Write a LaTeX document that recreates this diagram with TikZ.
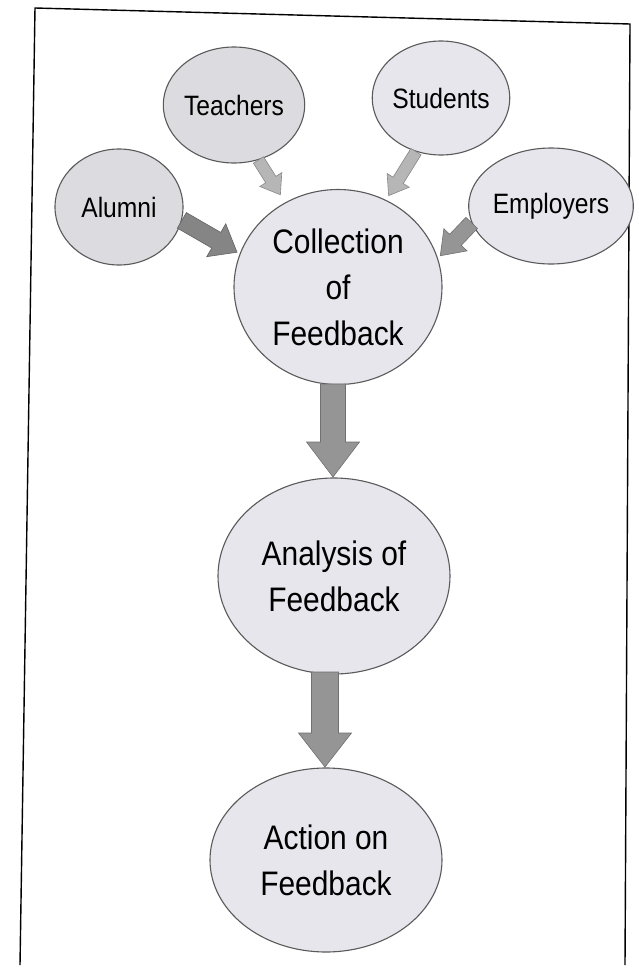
\documentclass[tikz,border=0pt]{standalone}
\usepackage{fontspec}
\setmainfont{Liberation Sans}[FakeStretch=0.88]
\usetikzlibrary{shapes.geometric,calc}
\definecolor{bubble}{HTML}{E6E6EC}
\definecolor{bubbledk}{HTML}{DCDCE0}
\definecolor{rim}{HTML}{5A5A5A}
\definecolor{arrowdk}{HTML}{858585}
\definecolor{arrowmd}{HTML}{959595}
\definecolor{arrowlt}{HTML}{B6B6B6}
\tikzset{
  bub/.style={ellipse, draw=rim, line width=1.1pt, fill=bubble, inner sep=0pt, align=center},
  smallbub/.style={bub, font=\fontsize{28}{34}\selectfont},
  bigbub/.style={bub, font=\fontsize{34}{46}\selectfont},
  framelne/.style={line width=1.4pt, black}
}
% block arrow: #1 start, #2 tip, #3 shaft half width, #4 head half width, #5 head length, #6 colour
\newcommand\blockarr[6]{%
  \coordinate (hb) at ($(#2)!#5!(#1)$);
  \filldraw[fill=#6, draw=#6!75!black, line width=0.6pt, line join=miter]
    ($(#1)!#3!90:(#2)$) -- ($(hb)!#3!90:(#2)$) -- ($(hb)!#4!90:(#2)$) -- (#2)
    -- ($(hb)!#4!-90:(#2)$) -- ($(hb)!#3!-90:(#2)$) -- ($(#1)!#3!-90:(#2)$) -- cycle;
}
\begin{document}
\begin{tikzpicture}[x=1pt,y=-1pt]
\useasboundingbox (0,0) rectangle (638,980);
\fill[white] (0,0) rectangle (638,980);
% frame
\coordinate (ftl) at (35,8);
\coordinate (ftr) at (630,24);
\coordinate (fbl) at (20,965);
\coordinate (fbr) at (625,965);
\draw[framelne] (fbl) -- (ftl) -- (ftr) -- (fbr);
% nodes
\node[smallbub, fill=bubbledk, minimum width=126pt, minimum height=116pt] (teachers) at (234,105) {Teachers};
\node[smallbub, minimum width=130pt, minimum height=114pt] (students) at (441,98) {Students};
\node[smallbub, fill=bubbledk, minimum width=128pt, minimum height=116pt] (alumni) at (119,207) {Alumni};
\node[smallbub, minimum width=132pt, minimum height=116pt] (employers) at (551,206) {Employers};
\node[bigbub, minimum width=208pt, minimum height=195pt] (coll) at (338,287) {Collection\\of\\Feedback};
\node[bigbub, minimum width=232pt, minimum height=196pt] (analysis) at (334,576) {Analysis of\\Feedback};
\node[bigbub, minimum width=232pt, minimum height=184pt] (action) at (326,860) {Action on\\Feedback};
% arrow end points
\coordinate (aS) at (alumni.-12);
\coordinate (aT) at ($(coll.161)!-3pt!(coll.center)$);
\coordinate (tS) at (teachers.-66);
\coordinate (tT) at ($(coll.122)!-9pt!(coll.center)$);
\coordinate (sS) at (students.245);
\coordinate (sT) at ($(coll.61)!-5pt!(coll.center)$);
\coordinate (eS) at (employers.192);
\coordinate (eT) at ($(coll.17)!-3pt!(coll.center)$);
\coordinate (c1S) at (333,384);
\coordinate (c1T) at (333,477);
\coordinate (c2S) at (325,672);
\coordinate (c2T) at (325,767);
% arrows
\blockarr{aS}{aT}{9pt}{19pt}{24pt}{arrowdk}
\blockarr{tS}{tT}{6pt}{13pt}{18pt}{arrowlt}
\blockarr{sS}{sT}{6pt}{13pt}{18pt}{arrowlt}
\blockarr{eS}{eT}{8pt}{16pt}{22pt}{arrowmd}
\blockarr{c1S}{c1T}{12.5pt}{26.5pt}{35pt}{arrowmd}
\blockarr{c2S}{c2T}{13.5pt}{26.5pt}{34pt}{arrowmd}
\end{tikzpicture}
\end{document}
